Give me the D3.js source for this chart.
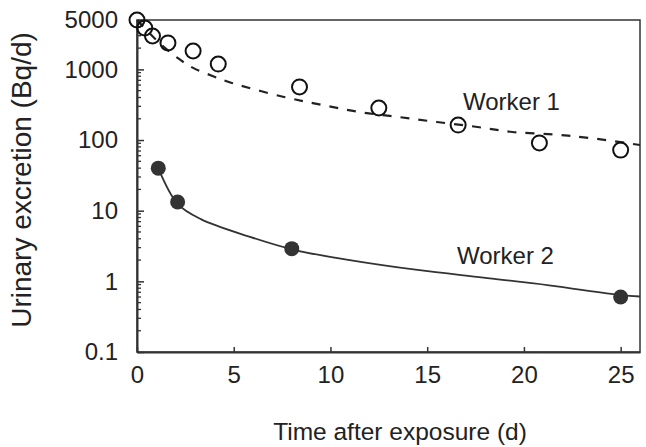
<!DOCTYPE html>
<html lang="en">
<head>
<meta charset="UTF-8">
<title>Urinary excretion</title>
<script src="https://cdn.jsdelivr.net/npm/d3@7"></script>
<style>
  body { margin: 0; background: #fff; }
  text { font-family: "Liberation Sans", Arial, sans-serif; fill: #222; }
</style>
</head>
<body>
<div id="chart"></div>
<script>
// measured points, worker 1 (open circles)
var w1Days = [0, 0.4, 0.8, 1.6, 2.9, 4.2, 8.4, 12.5, 16.6, 20.8, 25.0];
var w1Bq   = [5000, 3850, 2970, 2370, 1820, 1190, 564, 284, 163, 91, 72];

// measured points, worker 2 (filled circles)
var w2Days = [1.1, 2.1, 8.0, 25.0];
var w2Bq   = [40, 13.3, 2.9, 0.6];

// fitted curves
var fit1Days = [0, 1.0, 2.1, 2.9, 3.9, 4.9, 7.6, 9.6, 11.5, 13.5, 15.5, 17.6, 19.4, 21.5, 23.4, 26];
var fit1Bq   = [5000, 2600, 1450, 1050, 807, 643, 407, 313, 249, 212, 180, 153, 130, 120, 107, 85];
var fit2Days = [1.1, 2.1, 3.3, 5.8, 8.1, 11.0, 14.5, 17.9, 21.3, 25.0, 26];
var fit2Bq   = [40, 12.5, 7.6, 4.3, 2.8, 2.0, 1.45, 1.13, 0.88, 0.64, 0.61];

var yTicks = [0.1, 1, 10, 100, 1000, 5000];
var xTicks = [0, 5, 10, 15, 20, 25];

(function() {
  var width = 646, height = 447;
  var m = {left: 137, right: 640, top: 20, bottom: 352};

  var svg = d3.select("#chart").append("svg")
      .attr("width", width)
      .attr("height", height);

  var x = d3.scaleLinear().domain([0, 26]).range([m.left, m.right]);
  var y = d3.scaleLog().domain([0.1, 5000]).range([m.bottom, m.top]);

  // frame
  svg.append("rect")
      .attr("x", m.left).attr("y", m.top)
      .attr("width", m.right - m.left).attr("height", m.bottom - m.top)
      .attr("fill", "none").attr("stroke", "#333").attr("stroke-width", 1.5);

  // minor log ticks
  var minor = y.ticks().filter(function(d){ return yTicks.indexOf(d) < 0; });
  svg.append("g").selectAll("line")
      .data(minor)
      .enter().append("line")
      .attr("x1", m.left).attr("x2", m.left + 4)
      .attr("y1", function(d){ return y(d); })
      .attr("y2", function(d){ return y(d); })
      .attr("stroke", "#333").attr("stroke-width", 1.3);

  var yAxis = svg.append("g")
      .attr("transform", "translate(" + m.left + ",0)")
      .call(d3.axisLeft(y).tickValues(yTicks).tickFormat(d3.format("")).tickSize(-7).tickSizeOuter(0).tickPadding(19));

  var xAxis = svg.append("g")
      .attr("transform", "translate(0," + m.bottom + ")")
      .call(d3.axisBottom(x).tickValues(xTicks).tickSize(-5).tickSizeOuter(0).tickPadding(14));

  [yAxis, xAxis].forEach(function(a){
    a.select(".domain").attr("stroke", "#333").attr("stroke-width", 2);
    a.selectAll(".tick line").attr("stroke", "#333").attr("stroke-width", 1.5);
    a.selectAll("text").attr("font-size", 24).attr("font-family", null).attr("fill", "#222");
  });

  // curves
  var line = d3.line()
      .x(function(d){ return x(d[0]); })
      .y(function(d){ return y(d[1]); })
      .curve(d3.curveCatmullRom.alpha(0.5));

  svg.append("path")
      .datum(d3.zip(fit1Days, fit1Bq))
      .attr("d", line)
      .attr("fill", "none").attr("stroke", "#222")
      .attr("stroke-width", 2.2).attr("stroke-dasharray", "9,9");

  svg.append("path")
      .datum(d3.zip(fit2Days, fit2Bq))
      .attr("d", line)
      .attr("fill", "none").attr("stroke", "#333").attr("stroke-width", 1.8);

  svg.selectAll("circle.w1")
      .data(d3.zip(w1Days, w1Bq))
      .enter().append("circle")
      .attr("class", "w1")
      .attr("cx", function(d){ return x(d[0]); })
      .attr("cy", function(d){ return y(d[1]); })
      .attr("r", 7.5)
      .attr("fill", "none").attr("stroke", "#111").attr("stroke-width", 2);

  svg.selectAll("circle.w2")
      .data(d3.zip(w2Days, w2Bq))
      .enter().append("circle")
      .attr("class", "w2")
      .attr("cx", function(d){ return x(d[0]); })
      .attr("cy", function(d){ return y(d[1]); })
      .attr("r", 7.5)
      .attr("fill", "#333");

  svg.append("text").attr("x", 463).attr("y", 110).attr("font-size", 24).text("Worker 1");
  svg.append("text").attr("x", 457).attr("y", 264).attr("font-size", 24).text("Worker 2");

  svg.append("text")
      .attr("x", 400).attr("y", 440)
      .attr("text-anchor", "middle").attr("font-size", 24.5)
      .text("Time after exposure (d)");

  svg.append("text")
      .attr("transform", "translate(31,180) rotate(-90)")
      .attr("text-anchor", "middle").attr("font-size", 28)
      .text("Urinary excretion (Bq/d)");
})();
</script>
</body>
</html>
